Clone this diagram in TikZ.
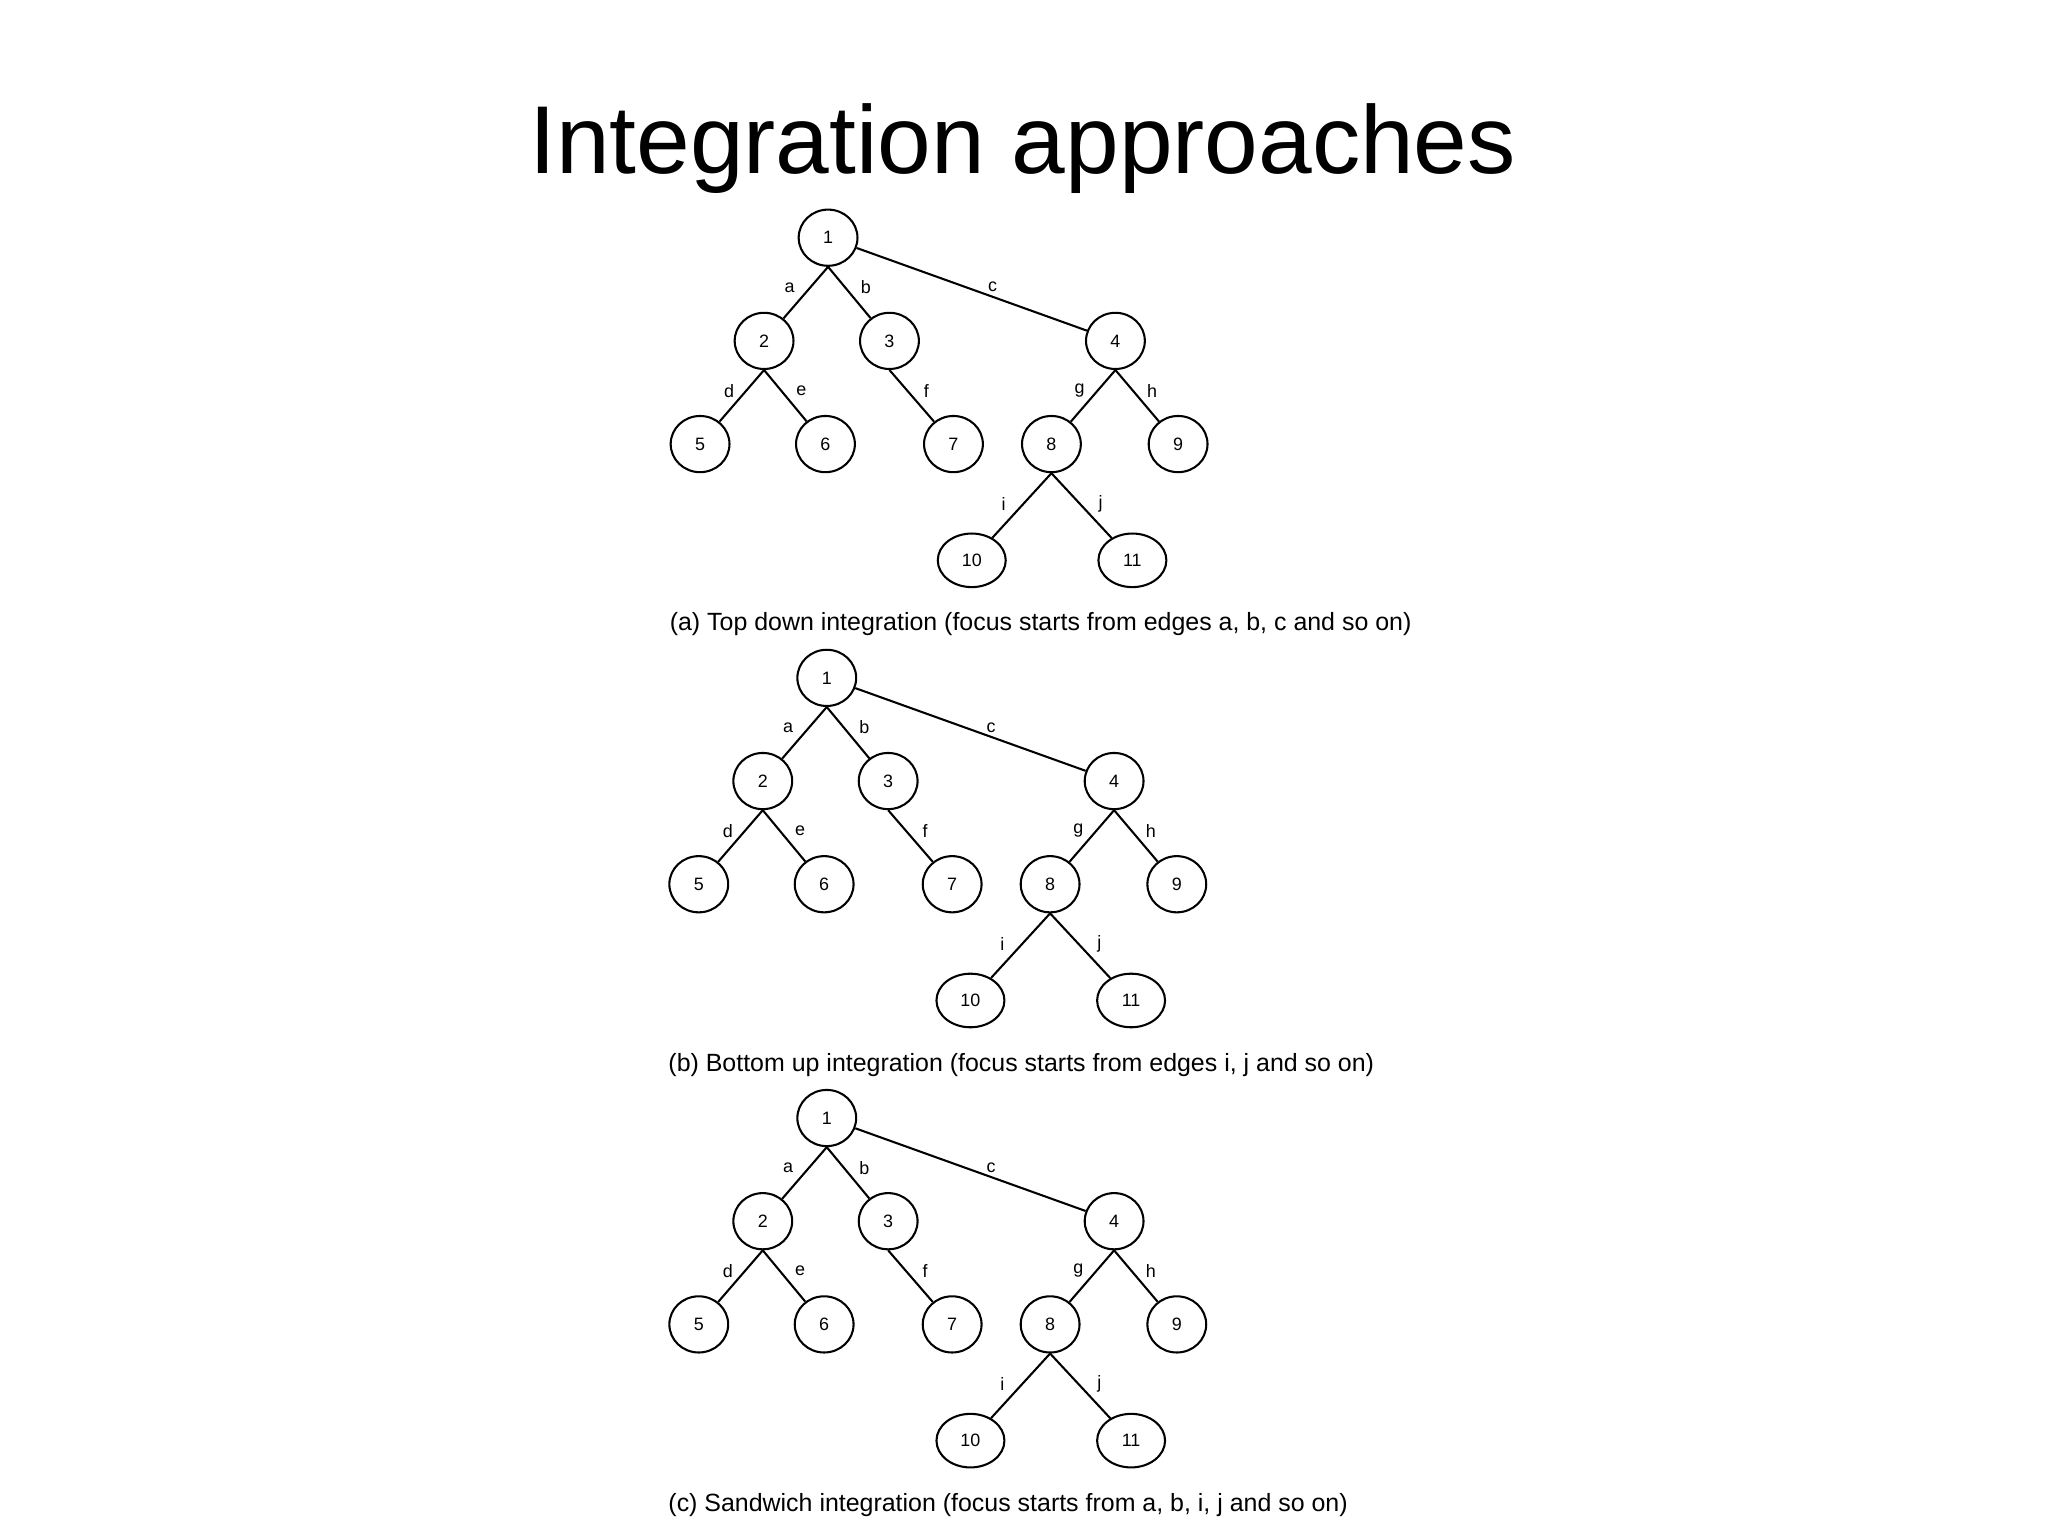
\documentclass[tikz,border=0pt]{standalone}
\usepackage{fontspec}
\setmainfont{Liberation Sans}
\usetikzlibrary{shapes.geometric}

\begin{document}
\begin{tikzpicture}[x=0.01cm, y=0.01cm, line width=0.45pt,
  vnode/.style={draw, ellipse, minimum width=0.45cm, minimum height=0.43cm, inner sep=0pt, font=\fontsize{3.9}{4}\selectfont},
  wnode/.style={vnode, minimum width=0.52cm, minimum height=0.41cm},
  lbl/.style={inner sep=0.6pt, font=\fontsize{3.9}{4}\selectfont},
  captext/.style={anchor=base west, inner sep=0pt, font=\fontsize{5.43}{6}\selectfont}
  ]
  \useasboundingbox (0,0) rectangle (1568,-1176);

  \node[anchor=base, inner sep=0pt, font=\fontsize{21}{24}\selectfont] (title) at (783,-132.6) {Integration approaches};

  \foreach \t/\ox/\oy/\txt in {
    a/634/-182/{(a) Top down integration (focus starts from edges a, b, c and so on)},
    b/633/-519/{(b) Bottom up integration (focus starts from edges i, j and so on)},
    c/633/-856/{(c) Sandwich integration (focus starts from a, b, i, j and so on)}} {
  \begin{scope}[shift={(\ox,\oy)}]
    % Nodes
    \node[vnode] (\t1) at (0,0) {1};
    \node[vnode] (\t2) at (-49,-79) {2};
    \node[vnode] (\t3) at (47,-79) {3};
    \node[vnode] (\t4) at (220,-79) {4};
    \node[vnode] (\t5) at (-98,-158) {5};
    \node[vnode] (\t6) at (-2,-158) {6};
    \node[vnode] (\t7) at (96,-158) {7};
    \node[vnode] (\t8) at (171,-158) {8};
    \node[vnode] (\t9) at (268,-158) {9};
    \node[wnode] (\t10) at (110,-247) {10};
    \node[wnode] (\t11) at (233,-247) {11};

    % Edges
    \draw (\t1.south) -- node[lbl, pos=.4, left=2.6pt] {a} (\t2);
    \draw (\t1.south) -- node[lbl, pos=.4, right=2.6pt] {b} (\t3);
    \draw (\t1) -- node[lbl, pos=.59, above=0.2pt] {c} (\t4);
    \draw (\t2.south) -- node[lbl, pos=.4, left=1.8pt] {d} (\t5);
    \draw (\t2.south) -- node[lbl, pos=.4, right=2.5pt] {e} (\t6);
    \draw (\t3.south) -- node[lbl, pos=.4, right=2.8pt] {f} (\t7);
    \draw (\t4.south) -- node[lbl, pos=.4, left=2pt] {g} (\t8);
    \draw (\t4.south) -- node[lbl, pos=.4, right=2.3pt] {h} (\t9);
    \draw (\t8.south) -- node[lbl, pos=.47, left=3.1pt] {i} (\t10);
    \draw (\t8.south) -- node[lbl, pos=.47, right=3.3pt] {j} (\t11);

    \node[captext] (\t cap) at (-122,-301) {\txt};
  \end{scope}
  }
\end{tikzpicture}
\end{document}
